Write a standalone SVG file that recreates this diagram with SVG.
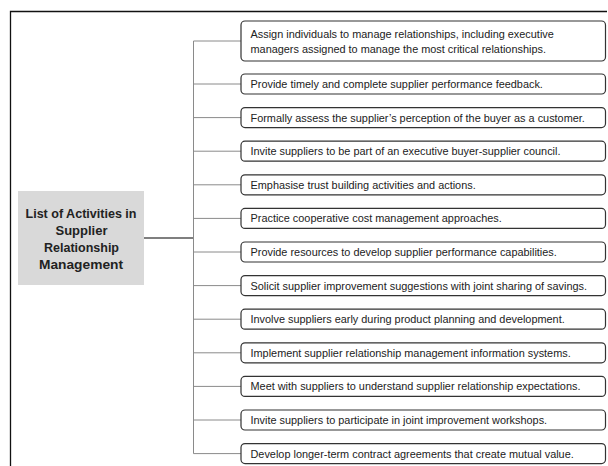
<svg xmlns="http://www.w3.org/2000/svg" width="608" height="466" viewBox="0 0 608 466">
  <style>
    .frame { fill: none; stroke: #111; stroke-width: 1.3; }
    .hub { fill: #d9d9d9; stroke: none; }
    .hub-text { font-family: "Liberation Sans", Arial, sans-serif; font-size: 12px; font-weight: bold; fill: #222; text-anchor: middle; }
    .item { fill: #fff; stroke: #333; stroke-width: 1.2; }
    .item-text { font-family: "Liberation Sans", Arial, sans-serif; font-size: 10.9px; fill: #222; }
    .branch { fill: none; stroke: #8a8a8a; stroke-width: 1; }
    .stem { fill: none; stroke: #555; stroke-width: 1.6; }
  </style>

  <!-- page frame (top and left edges) -->
  <path class="frame" d="M10.5,466 V11.5 H607"/>

  <!-- connectors -->
  <g id="connectors">
    <line class="stem" x1="144" y1="238" x2="193.5" y2="238"/>
    <line class="branch" x1="193.5" y1="41" x2="193.5" y2="453.6"/>
    <line class="branch" x1="193.5" y1="41" x2="241" y2="41"/>
    <line class="branch" x1="193.5" y1="84" x2="241" y2="84"/>
    <line class="branch" x1="193.5" y1="117.6" x2="241" y2="117.6"/>
    <line class="branch" x1="193.5" y1="151.2" x2="241" y2="151.2"/>
    <line class="branch" x1="193.5" y1="184.8" x2="241" y2="184.8"/>
    <line class="branch" x1="193.5" y1="218.4" x2="241" y2="218.4"/>
    <line class="branch" x1="193.5" y1="252" x2="241" y2="252"/>
    <line class="branch" x1="193.5" y1="285.6" x2="241" y2="285.6"/>
    <line class="branch" x1="193.5" y1="319.2" x2="241" y2="319.2"/>
    <line class="branch" x1="193.5" y1="352.8" x2="241" y2="352.8"/>
    <line class="branch" x1="193.5" y1="386.4" x2="241" y2="386.4"/>
    <line class="branch" x1="193.5" y1="420" x2="241" y2="420"/>
    <line class="branch" x1="193.5" y1="453.6" x2="241" y2="453.6"/>
  </g>

  <!-- central topic -->
  <g id="hub">
    <rect class="hub" x="18" y="191" width="126" height="94"/>
    <text class="hub-text" x="81" y="217.5" textLength="111" lengthAdjust="spacingAndGlyphs">List of Activities in</text>
    <text class="hub-text" x="81.5" y="234.5" textLength="52" lengthAdjust="spacingAndGlyphs">Supplier</text>
    <text class="hub-text" x="81.5" y="251.5" textLength="75" lengthAdjust="spacingAndGlyphs">Relationship</text>
    <text class="hub-text" x="81" y="268.5" textLength="84" lengthAdjust="spacingAndGlyphs">Management</text>
  </g>

  <!-- activity boxes -->
  <g id="item-1">
    <rect class="item" x="241" y="21" width="364.5" height="40" rx="4"/>
    <text class="item-text" x="250.5" y="37.5">Assign individuals to manage relationships, including executive</text>
    <text class="item-text" x="250.5" y="52.5">managers assigned to manage the most critical relationships.</text>
  </g>
  <g id="item-2">
    <rect class="item" x="241" y="74" width="364.5" height="20" rx="4"/>
    <text class="item-text" x="250.5" y="88">Provide timely and complete supplier performance feedback.</text>
  </g>
  <g id="item-3">
    <rect class="item" x="241" y="107.6" width="364.5" height="20" rx="4"/>
    <text class="item-text" x="250.5" y="121.6">Formally assess the supplier’s perception of the buyer as a customer.</text>
  </g>
  <g id="item-4">
    <rect class="item" x="241" y="141.2" width="364.5" height="20" rx="4"/>
    <text class="item-text" x="250.5" y="155.2">Invite suppliers to be part of an executive buyer-supplier council.</text>
  </g>
  <g id="item-5">
    <rect class="item" x="241" y="174.8" width="364.5" height="20" rx="4"/>
    <text class="item-text" x="250.5" y="188.8">Emphasise trust building activities and actions.</text>
  </g>
  <g id="item-6">
    <rect class="item" x="241" y="208.4" width="364.5" height="20" rx="4"/>
    <text class="item-text" x="250.5" y="222.4">Practice cooperative cost management approaches.</text>
  </g>
  <g id="item-7">
    <rect class="item" x="241" y="242" width="364.5" height="20" rx="4"/>
    <text class="item-text" x="250.5" y="256">Provide resources to develop supplier performance capabilities.</text>
  </g>
  <g id="item-8">
    <rect class="item" x="241" y="275.6" width="364.5" height="20" rx="4"/>
    <text class="item-text" x="250.5" y="289.6">Solicit supplier improvement suggestions with joint sharing of savings.</text>
  </g>
  <g id="item-9">
    <rect class="item" x="241" y="309.2" width="364.5" height="20" rx="4"/>
    <text class="item-text" x="250.5" y="323.2">Involve suppliers early during product planning and development.</text>
  </g>
  <g id="item-10">
    <rect class="item" x="241" y="342.8" width="364.5" height="20" rx="4"/>
    <text class="item-text" x="250.5" y="356.8">Implement supplier relationship management information systems.</text>
  </g>
  <g id="item-11">
    <rect class="item" x="241" y="376.4" width="364.5" height="20" rx="4"/>
    <text class="item-text" x="250.5" y="390.4">Meet with suppliers to understand supplier relationship expectations.</text>
  </g>
  <g id="item-12">
    <rect class="item" x="241" y="410" width="364.5" height="20" rx="4"/>
    <text class="item-text" x="250.5" y="424">Invite suppliers to participate in joint improvement workshops.</text>
  </g>
  <g id="item-13">
    <rect class="item" x="241" y="443.6" width="364.5" height="20" rx="4"/>
    <text class="item-text" x="250.5" y="457.6">Develop longer-term contract agreements that create mutual value.</text>
  </g>
</svg>
